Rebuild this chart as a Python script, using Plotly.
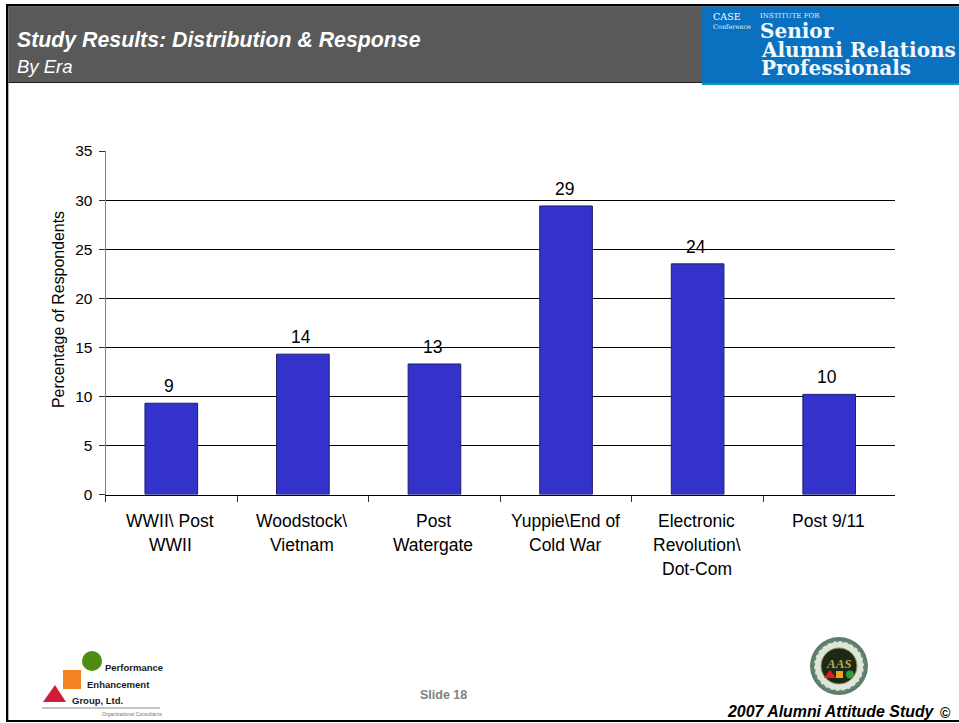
import plotly.graph_objects as go

W, H = 959, 723

# Survey results by era
eras = ["WWII\\ Post WWII", "Woodstock\\ Vietnam", "Post Watergate",
        "Yuppie\\End of Cold War", "Electronic Revolution\\ Dot-Com", "Post 9/11"]
era_lines = [["WWII\\ Post", "WWII"], ["Woodstock\\", "Vietnam"], ["Post", "Watergate"],
             ["Yuppie\\End of", "Cold War"], ["Electronic", "Revolution\\", "Dot-Com"], ["Post 9/11"]]
respondents = [9.3, 14.3, 13.3, 29.4, 23.5, 10.2]
y_ticks = [0, 5, 10, 15, 20, 25, 30, 35]

title = "Study Results: Distribution & Response"
subtitle = "By Era"
y_title = "Percentage of Respondents"
footer_slide = "Slide 18"
footer_study = "2007 Alumni Attitude Study"


def px(x):
    return x / W


def py(y):
    return 1 - y / H


def rect(x0, y0, x1, y1, fill, layer="below"):
    return dict(type="rect", xref="paper", yref="paper", x0=px(x0), x1=px(x1), y0=py(y1), y1=py(y0),
                fillcolor=fill, line=dict(width=0), layer=layer)


def disc(cx, cy, r, fill, line=None, width=0, dash="solid"):
    return dict(type="circle", xref="paper", yref="paper", x0=px(cx - r), x1=px(cx + r),
                y0=py(cy + r), y1=py(cy - r), fillcolor=fill,
                line=dict(width=width, color=line or fill, dash=dash), layer="above")


def poly(points, fill):
    path = "M " + " L ".join(f"{px(a):.5f},{py(b):.5f}" for a, b in points) + " Z"
    return dict(type="path", xref="paper", yref="paper", path=path, fillcolor=fill,
                line=dict(width=0), layer="above")


def label(x, y, text, size, color="#000000", family="Liberation Sans", anchor="left", angle=0):
    return dict(xref="paper", yref="paper", x=px(x), y=py(y), text=text, showarrow=False,
                xanchor=anchor, yanchor="middle", borderpad=0, borderwidth=0, textangle=angle,
                font=dict(size=size, color=color, family=family))


fig = go.Figure(go.Bar(
    x=eras, y=respondents, width=0.4,
    marker=dict(color="#3333CC", line=dict(color="#1C1C70", width=1)),
    hoverinfo="x+y",
))

shapes = [
    # slide frame and header band
    rect(6, 4, W, 6.5, "#000000"),
    rect(6, 4, 8.3, 722, "#000000"),
    rect(6, 720, W, 722, "#000000"),
    rect(8.3, 6.5, 702, 82, "#595959"),
    rect(8.3, 82, 702, 83, "#1E1E1E"),
    # institute banner
    rect(702, 6.5, W, 83, "#0A70C0"),
    rect(702, 83, W, 85, "#0A9CB8"),
    # consultancy logo
    disc(92, 661, 10, "#4C8C10"),
    rect(63, 670, 81, 689, "#F58220"),
    poly([(43, 702), (55, 685), (66, 702)], "#D01C38"),
    rect(42, 707.5, 160, 708.5, "#8A8A8A"),
    # study seal
    disc(839, 666, 29, "#5E7D6A"),
    disc(839, 666, 25, "#DDE5DD", "#6B8A76", 2, "dot"),
    disc(839, 666, 18, "#1A2A16", "#A89848", 1),
    poly([(824, 678), (830, 670), (836, 678)], "#E02020"),
    rect(836, 671, 843, 678, "#F0A020", layer="above"),
    disc(850, 674.5, 4, "#2E9E3A"),
]

serif = "DejaVu Serif"
annotations = [
    label(17, 40, f"<b><i>{title}</i></b>", 21.3, "#FFFFFF"),
    label(17, 66, f"<i>{subtitle}</i>", 18.5, "#FFFFFF"),
    label(713, 16, "CASE", 9.5, "#FFFFFF", serif),
    label(713, 27, "Conference", 6.5, "#E4F0FA", serif),
    label(760, 16, "INSTITUTE FOR", 7, "#E4F0FA", serif),
    label(760, 31, "<b>Senior</b>", 20, "#F2F8FC", serif),
    label(761, 50, "<b>Alumni Relations</b>", 20, "#F2F8FC", serif),
    label(761, 68, "<b>Professionals</b>", 20, "#F2F8FC", serif),
    label(105, 667, "<b>Performance</b>", 9.5, "#1A1A1A"),
    label(87, 684, "<b>Enhancement</b>", 9.5, "#1A1A1A"),
    label(72, 700, "<b>Group, Ltd.</b>", 9.5, "#1A1A1A"),
    label(102, 714, "Organizational Consultants", 5, "#777777"),
    label(839, 663, "<b><i>AAS</i></b>", 13, "#B8A850", "Liberation Serif", "center"),
    label(443, 695, f"<b>{footer_slide}</b>", 12.5, "#808080", anchor="center"),
    label(727, 711, f"<b><i>{footer_study}</i></b>", 15.9),
    label(945, 713, "<b>©</b>", 14, anchor="center"),
    label(58, 310, y_title, 15.9, anchor="center", angle=-90),
]

# value captions above each bar
for era, value in zip(eras, respondents):
    annotations.append(dict(xref="x", yref="y", x=era, y=value, text=f"{value:.0f}", showarrow=False,
                            yanchor="bottom", yshift=6, xshift=-2, borderpad=0,
                            font=dict(size=17.5, color="#000000", family="Liberation Sans")))

# category captions, one line per row
for era, lines in zip(eras, era_lines):
    for row, line in enumerate(lines):
        annotations.append(dict(xref="x", yref="paper", x=era, y=py(521 + 24 * row), text=line,
                                showarrow=False, yanchor="middle", borderpad=0, xshift=-1,
                                font=dict(size=17.5, color="#000000", family="Liberation Sans")))

fig.update_layout(
    width=W, height=H, autosize=False,
    margin=dict(l=0, r=0, t=0, b=0, autoexpand=False),
    paper_bgcolor="#FFFFFF", plot_bgcolor="#FFFFFF",
    showlegend=False,
    font=dict(family="Liberation Sans", color="#000000"),
    shapes=shapes, annotations=annotations,
    xaxis=dict(domain=[px(105.5), px(895)], type="category", categoryorder="array", categoryarray=eras,
               range=[-0.5, 5.5], tickson="boundaries", ticks="outside", ticklen=6, tickwidth=1,
               tickcolor="#333333", showticklabels=False, showgrid=False, zeroline=False,
               showline=True, linecolor="#000000", linewidth=1, anchor="y", automargin=False),
    yaxis=dict(domain=[py(494.5), py(151)], range=[0, 35], tickvals=y_ticks, ticks="outside", ticklen=6,
               tickwidth=1, tickcolor="#333333", tickfont=dict(size=15.5), ticklabelstandoff=3,
               showgrid=True, gridcolor="#000000", gridwidth=1, zeroline=False,
               showline=True, linecolor="#808080", linewidth=1, anchor="x", automargin=False),
)

fig.write_html("out.html", config={"displayModeBar": False})
